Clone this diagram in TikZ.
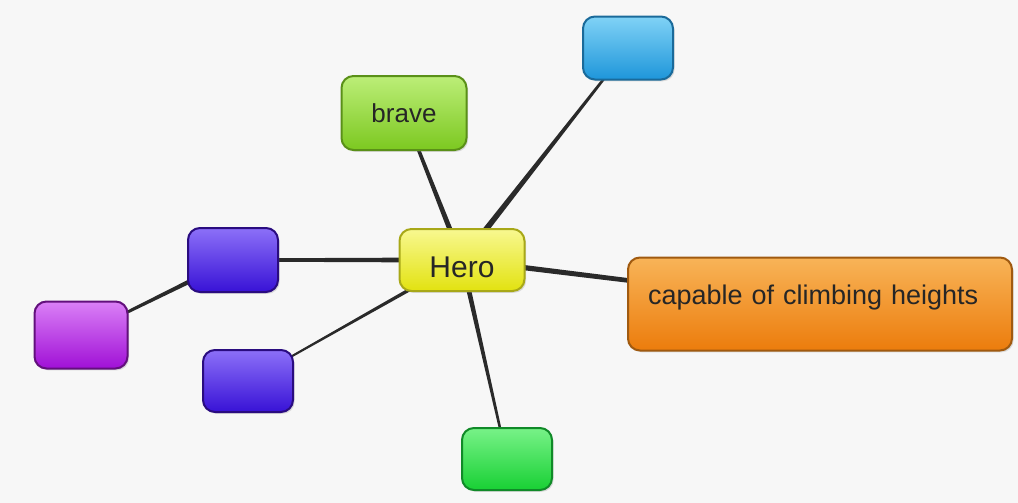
\documentclass[tikz,border=0pt]{standalone}
\usepackage{fontspec}
\setmainfont{Liberation Sans}
\usetikzlibrary{calc,backgrounds,shadows}
\definecolor{paper}{HTML}{F7F7F7}
\definecolor{ink}{HTML}{2A2A2A}
\definecolor{heroT}{HTML}{F8F890}\definecolor{heroM}{HTML}{F0F028}\definecolor{heroB}{HTML}{E2E210}\definecolor{heroD}{HTML}{A8A818}
\definecolor{braveT}{HTML}{BCEE78}\definecolor{braveM}{HTML}{90D838}\definecolor{braveB}{HTML}{7CC820}\definecolor{braveD}{HTML}{5A9018}
\definecolor{skyT}{HTML}{80D2F6}\definecolor{skyM}{HTML}{34AAE6}\definecolor{skyB}{HTML}{1E96DA}\definecolor{skyD}{HTML}{1A6A9A}
\definecolor{oraT}{HTML}{F8B458}\definecolor{oraM}{HTML}{F29020}\definecolor{oraB}{HTML}{EC7C0C}\definecolor{oraD}{HTML}{A05A10}
\definecolor{purT}{HTML}{8C70F8}\definecolor{purM}{HTML}{4E28EA}\definecolor{purB}{HTML}{3812D6}\definecolor{purD}{HTML}{2A0C80}
\definecolor{magT}{HTML}{DA80F6}\definecolor{magM}{HTML}{B428E6}\definecolor{magB}{HTML}{A010D6}\definecolor{magD}{HTML}{62107C}
\definecolor{leafT}{HTML}{78F288}\definecolor{leafM}{HTML}{30E048}\definecolor{leafB}{HTML}{18D034}\definecolor{leafD}{HTML}{108A28}
% tapered connector, wide at the first node
\newcommand\taperlink[4]{%
  \fill[link] ($(#1)!#3!90:(#2)$) -- ($(#2)!#4!-90:(#1)$)
    -- ($(#2)!#4!90:(#1)$) -- ($(#1)!#3!-90:(#2)$) -- cycle;}

\begin{document}
\begin{tikzpicture}[x=0.5pt, y=-0.5pt,
  box/.style={rounded corners=6pt, line width=1pt, text=black!85,
              inner sep=0pt, align=center,
              drop shadow={shadow xshift=0.8pt, shadow yshift=-0.9pt, opacity=0.25}},
  gloss/.style={top color=#1T, middle color=#1M, bottom color=#1B, draw=#1D},
  link/.style={fill=ink}]
\useasboundingbox (0,0) rectangle (1018,503);
% nodes
\node[box, gloss=hero, minimum width=62.5pt, minimum height=31pt,
      font=\fontsize{15}{18}\selectfont, text height=17pt, text depth=0pt]
      (hero) at (462,260) {Hero};
\node[box, gloss=brave, minimum width=62.5pt, minimum height=37pt,
      font=\fontsize{13}{15}\selectfont] (brave) at (404,113) {brave};
\node[box, gloss=sky, minimum width=45pt, minimum height=31.5pt] (blue) at (628,48) {};
\node[box, gloss=ora, minimum width=192pt, minimum height=46.5pt,
      font=\fontsize{13.5}{16}\selectfont, text width=172pt, align=left,
      text height=9.7pt, text depth=9.7pt]
      (climb) at (820,304) {capable of climbing heights};
\node[box, gloss=pur, minimum width=45pt, minimum height=32pt] (purpA) at (233,260) {};
\node[box, gloss=mag, minimum width=46.5pt, minimum height=33.5pt] (magA) at (81,335) {};
\node[box, gloss=pur, minimum width=45pt, minimum height=31pt] (purpB) at (248,381) {};
\node[box, gloss=leaf, minimum width=45pt, minimum height=31pt] (leaf) at (507,459) {};
% connectors
\begin{scope}[on background layer]
\fill[paper] (0,0) rectangle (1018,503);
\taperlink{hero}{brave}{1.4pt}{0.7pt}
\taperlink{hero}{blue}{1.6pt}{0.5pt}
\taperlink{hero}{climb}{1.4pt}{0.9pt}
\taperlink{hero}{purpA}{1.3pt}{0.8pt}
\taperlink{hero}{purpB}{1.0pt}{0.4pt}
\taperlink{hero}{leaf}{1.3pt}{0.5pt}
\taperlink{purpA}{magA}{1.3pt}{0.5pt}
\end{scope}
\end{tikzpicture}
\end{document}
